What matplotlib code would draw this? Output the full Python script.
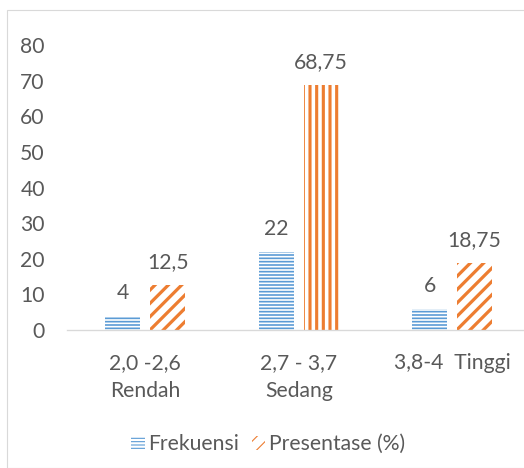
import matplotlib
matplotlib.use("Agg")
import matplotlib.pyplot as plt
from matplotlib.patches import Rectangle
import numpy as np

# Data
categories = ["2,0 -2,6\nRendah", "2,7 - 3,7\nSedang", "3,8-4  Tinggi"]
frekuensi = [4, 22, 6]
presentase = [12.5, 68.75, 18.75]
frek_labels = ["4", "22", "6"]
pres_labels = ["12,5", "68,75", "18,75"]
yticks = [0, 10, 20, 30, 40, 50, 60, 70, 80]

BLUE = "#5B9BD5"
ORANGE = "#ED7D31"
TEXT = "#595959"
GRID = "#D9D9D9"

DPI = 80
W, H = 524, 468
plt.rcParams["font.family"] = ["Lato", "DejaVu Sans"]
FS = 19

fig = plt.figure(figsize=(W / DPI, H / DPI), dpi=DPI)
fig.patch.set_facecolor("white")

# chart frame
fig.patches.append(Rectangle((7 / W, 0), 1.2, 1 - 10 / H, transform=fig.transFigure,
                             fill=False, edgecolor=GRID, linewidth=1.0))

ax = fig.add_axes([67 / W, 1 - 330 / H, (529 - 67) / W, (330 - 45) / H])

x = np.arange(len(categories))
bw = 0.229
off = 0.146


def set_hlw(patch, lw):
    if hasattr(patch, "set_hatch_linewidth"):
        patch.set_hatch_linewidth(lw)


b1 = ax.bar(x - off, frekuensi, bw, color="white", edgecolor=BLUE, linewidth=0,
            hatch="----", label="Frekuensi")
for p in b1:
    set_hlw(p, 1.5)

hatches = ["//", "||", "//"]
b2 = []
for i in range(len(categories)):
    r = ax.bar(x[i] + off, presentase[i], bw, color="white", edgecolor=ORANGE,
               linewidth=0, hatch=hatches[i],
               label="Presentase (%)" if i == 0 else None)
    for p in r:
        set_hlw(p, 2.9 if hatches[i] == "//" else 2.8)
    b2.append(r)

for xi, v, t in zip(x - off, frekuensi, frek_labels):
    ax.annotate(t, (xi, v), xytext=(0, 23), textcoords="offset pixels",
                ha="center", va="center", fontsize=FS, color=TEXT)
for xi, v, t in zip(x + off, presentase, pres_labels):
    ax.annotate(t, (xi, v), xytext=(0, 23), textcoords="offset pixels",
                ha="center", va="center", fontsize=FS, color=TEXT)

ax.set_ylim(0, 80)
ax.set_xlim(-0.51, 2.5)
ax.set_yticks(yticks)
ax.set_yticklabels([str(v) for v in yticks])
ax.set_xticks(x)
ax.set_xticklabels(categories, linespacing=1.5)
ax.tick_params(axis="y", length=0, pad=20, labelsize=FS, labelcolor=TEXT)
ax.tick_params(axis="x", length=0, pad=21, labelsize=FS, labelcolor=TEXT)
for s in ["top", "right", "left"]:
    ax.spines[s].set_visible(False)
ax.spines["bottom"].set_color(GRID)
ax.spines["bottom"].set_linewidth(1.2)
ax.set_facecolor("none")

leg = fig.legend(handles=[b1, b2[0]], labels=["Frekuensi", "Presentase (%)"],
                 loc="center", bbox_to_anchor=(268 / W, 1 - 444 / H), ncol=2,
                 frameon=False, fontsize=FS, handlelength=0.65, handleheight=0.65,
                 handletextpad=0.15, columnspacing=0.6, labelcolor=TEXT)

fig.savefig("out.png", dpi=DPI, facecolor="white")
